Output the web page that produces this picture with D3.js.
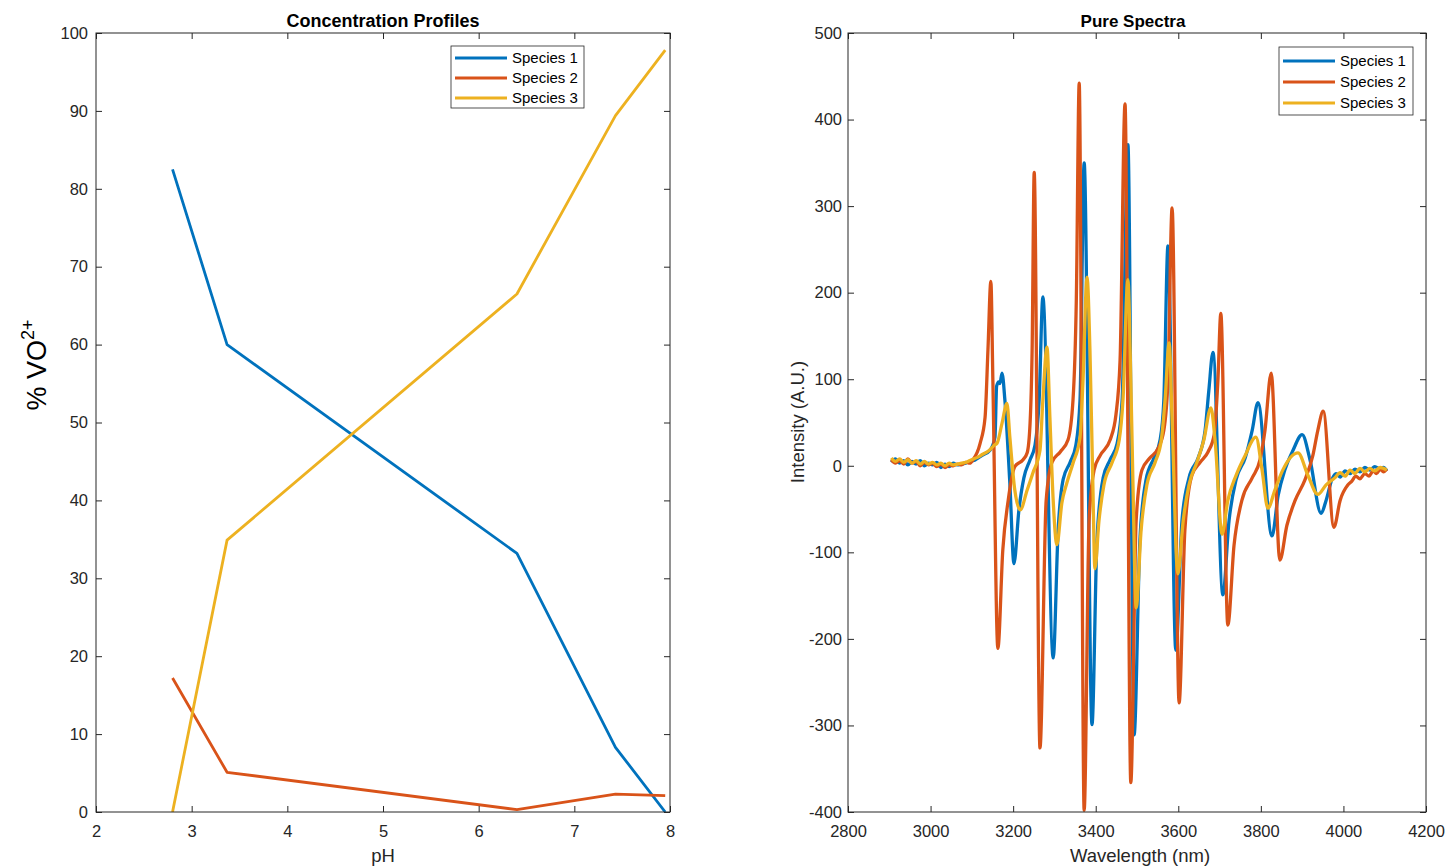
<!DOCTYPE html>
<html><head><meta charset="utf-8">
<script src="https://cdn.jsdelivr.net/npm/d3@7"></script>
<style>body{margin:0;background:#fff;} text{font-family:"Liberation Sans",Arial,sans-serif;}</style>
</head><body>
<svg id="c" width="1449" height="866"></svg>
<script>
// ---------- Data: concentration profiles ----------
const pH = [2.8, 3.37, 6.4, 7.43, 7.95];
const conc1 = [82.5, 60.0, 33.2, 8.3, 0.0];
const conc2 = [17.2, 5.1, 0.3, 2.3, 2.1];
const conc3 = [0.0, 34.9, 66.5, 89.4, 97.8];
const speciesNames = ["Species 1", "Species 2", "Species 3"];
const colors = ["#0072BD", "#D95319", "#EDB120"];
const pHTicks = [2, 3, 4, 5, 6, 7, 8];
const concTicks = [0, 10, 20, 30, 40, 50, 60, 70, 80, 90, 100];
const wlTicks = [2800, 3000, 3200, 3400, 3600, 3800, 4000, 4200];
const intTicks = [-400, -300, -200, -100, 0, 100, 200, 300, 400, 500];

// ---------- Data: pure spectra (wavelength, intensity) ----------
const spec1 = [
[2905,4],[2915,8],[2925,3],[2935,6],[2945,1],[2955,5],[2965,2],[2975,6],[2985,0],[2995,3],[3005,1],[3015,4],[3025,-2],[3035,2],[3045,-1],[3055,3],[3065,1],[3075,2],[3085,3],[3095,5],[3105,6],[3115,9],[3125,12],
[3144,18],[3156,33],[3160,92],[3165,97],[3168,95],[3173,107],[3180,76],[3192,-20],[3202,-113],
[3214,-51],[3226,-14],[3241,7],[3253,24],[3263,76],[3272,195],[3297,-222],
[3309,-74],[3321,-16],[3338,4],[3352,24],[3362,76],[3372,350],[3391,-299],
[3403,-86],[3418,-14],[3435,7],[3452,26],[3464,76],[3478,371],[3493,-311],
[3507,-86],[3522,-16],[3541,9],[3556,30],[3565,76],[3575,254],[3594,-213],
[3609,-63],[3626,-14],[3648,9],[3665,41],[3674,87],[3684,131],[3708,-149],
[3723,-63],[3740,-16],[3762,9],[3779,41],[3793,73],[3827,-81],
[3842,-34],[3858,-5],[3878,18],[3900,36],[3919,7],[3946,-55],[3958,-40],
[3972,-16],[3982,-9],[3992,-13],[4004,-6],[4016,-9],[4028,-4],[4040,-7],[4052,-2],[4064,-5],[4076,-1],[4089,-4],[4097,-2],[4105,-6]
];
const spec2 = [
[2905,7],[2915,3],[2925,6],[2935,2],[2945,8],[2955,3],[2965,5],[2975,0],[2985,4],[2995,1],[3005,3],[3015,-1],[3025,2],[3035,-2],[3045,1],[3055,0],[3065,2],[3075,1],[3085,4],[3095,3],[3103,7],
[3120,26],[3132,56],[3139,134],[3146,213],[3151,96],[3163,-211],
[3175,-97],[3188,-40],[3204,-1],[3224,7],[3234,15],[3241,49],[3246,134],[3251,339],[3265,-326],
[3280,-40],[3294,4],[3314,16],[3333,30],[3345,76],[3353,191],[3360,442],[3372,-398],
[3384,-63],[3396,-5],[3411,12],[3435,30],[3449,59],[3459,122],[3471,418],[3485,-366],
[3498,-63],[3512,-5],[3531,9],[3551,20],[3565,41],[3575,99],[3585,298],[3602,-274],
[3616,-74],[3633,-11],[3653,4],[3672,16],[3687,36],[3696,99],[3703,176],[3720,-184],
[3735,-92],[3754,-40],[3779,-14],[3798,7],[3810,41],[3825,107],[3846,-109],
[3863,-69],[3883,-40],[3907,-16],[3926,12],[3938,41],[3951,63],[3977,-71],
[3992,-40],[4011,-22],[4020,-18],[4030,-12],[4040,-15],[4052,-9],[4062,-12],[4072,-6],[4080,-9],[4089,-4],[4097,-7],[4105,-4]
];
const spec3 = [
[2905,9],[2915,5],[2925,8],[2935,4],[2945,7],[2955,3],[2965,6],[2975,2],[2985,5],[2995,2],[3005,4],[3015,1],[3025,3],[3035,0],[3045,3],[3055,1],[3065,2],[3075,3],[3085,4],[3095,6],[3105,8],[3115,10],[3125,13],[3140,17],[3155,24],
[3161,26],[3173,49],[3185,72],[3192,33],[3204,-28],[3217,-51],
[3234,-28],[3248,-8],[3265,18],[3272,76],[3282,137],[3289,56],[3297,-40],[3306,-91],
[3318,-43],[3330,-20],[3345,3],[3362,33],[3369,96],[3379,218],[3386,134],[3393,-20],[3398,-119],
[3408,-63],[3420,-22],[3440,4],[3457,30],[3466,76],[3478,215],[3485,99],[3490,-16],[3498,-164],
[3510,-74],[3524,-22],[3544,4],[3559,30],[3568,76],[3578,142],[3585,53],[3599,-125],
[3612,-63],[3626,-22],[3645,4],[3662,30],[3679,67],[3689,30],[3706,-79],
[3720,-40],[3740,-11],[3762,12],[3788,33],[3803,-5],[3817,-49],
[3834,-28],[3853,-5],[3890,15],[3914,-11],[3938,-33],[3958,-22],
[3979,-14],[3992,-8],[4004,-12],[4016,-5],[4028,-9],[4040,-3],[4052,-7],[4064,-3],[4076,-6],[4089,-2],[4105,-5]
];
const spectra = [spec1, spec2, spec3];
const concs = [conc1, conc2, conc3];

const svg = d3.select("#c");
const axisColor = "#262626";
const tickFont = "16.5px";

function drawBox(g, x, y, xTicks, yTicks, yPad) {
  const [x0, x1] = x.range(), [y0, y1] = y.range();
  const tl = 6;
  g.append("rect").attr("x", x0).attr("y", y1).attr("width", x1 - x0).attr("height", y0 - y1)
    .attr("fill", "none").attr("stroke", axisColor).attr("stroke-width", 1);
  const fmt = d => String(d);
  const bx = g.append("g").attr("transform", `translate(0,${y0})`)
    .call(d3.axisBottom(x).tickValues(xTicks).tickSize(-tl).tickPadding(13).tickFormat(fmt));
  const tx = g.append("g").attr("transform", `translate(0,${y1})`)
    .call(d3.axisTop(x).tickValues(xTicks).tickSize(-tl).tickFormat(""));
  const ly = g.append("g").attr("transform", `translate(${x0},0)`)
    .call(d3.axisLeft(y).tickValues(yTicks).tickSize(-tl).tickPadding(yPad).tickFormat(fmt));
  const ry = g.append("g").attr("transform", `translate(${x1},0)`)
    .call(d3.axisRight(y).tickValues(yTicks).tickSize(-tl).tickFormat(""));
  [bx, tx, ly, ry].forEach(a => {
    a.select(".domain").remove();
    a.selectAll(".tick line").attr("stroke", axisColor);
    a.selectAll("text").attr("fill", axisColor).style("font-size", tickFont)
      .style("font-family", "'Liberation Sans', Arial, sans-serif");
  });
  bx.selectAll("text").attr("dy", "0.71em");
}

function drawLegend(g, x, y, w, h, first, rowGap) {
  g.append("rect").attr("x", x).attr("y", y).attr("width", w).attr("height", h)
    .attr("fill", "#fff").attr("stroke", "#262626").attr("stroke-width", 0.8);
  speciesNames.forEach((n, i) => {
    const cy = y + first + i * rowGap;
    g.append("line").attr("x1", x + 4).attr("x2", x + 56).attr("y1", cy).attr("y2", cy)
      .attr("stroke", colors[i]).attr("stroke-width", 3);
    g.append("text").attr("x", x + 61).attr("y", cy + 5).text(n)
      .style("font-size", "15px").attr("fill", "#000");
  });
}

// ---------- Left panel ----------
const xL = d3.scaleLinear().domain([2, 8]).range([96, 670]);
const yL = d3.scaleLinear().domain([0, 100]).range([812, 33]);
const gL = svg.append("g");
gL.append("defs").append("clipPath").attr("id", "clipL").append("rect")
  .attr("x", 96).attr("y", 33).attr("width", 574).attr("height", 779);
const lineL = d3.line().x(d => xL(d[0])).y(d => yL(d[1]));
const gLines = gL.append("g").attr("clip-path", "url(#clipL)");
concs.forEach((c, i) => {
  gLines.append("path").datum(pH.map((p, j) => [p, c[j]])).attr("d", lineL)
    .attr("fill", "none").attr("stroke", colors[i]).attr("stroke-width", 2.8)
    .attr("stroke-linejoin", "round");
});
drawBox(gL, xL, yL, pHTicks, concTicks, 8);
drawLegend(gL, 451, 46, 133, 62, 12, 20);
gL.append("text").attr("x", 383).attr("y", 27).attr("text-anchor", "middle")
  .style("font-size", "18px").style("font-weight", "bold").text("Concentration Profiles");
gL.append("text").attr("x", 383).attr("y", 862).attr("text-anchor", "middle")
  .style("font-size", "18.5px").attr("fill", axisColor).text("pH");
const yl = gL.append("text").attr("transform", "translate(46,365) rotate(-90)")
  .attr("text-anchor", "middle").style("font-size", "27px").attr("fill", "#000");
yl.append("tspan").text("% VO");
yl.append("tspan").text("2+").style("font-size", "18px").attr("dy", "-12");

// ---------- Right panel ----------
const xR = d3.scaleLinear().domain([2800, 4200]).range([848, 1426]);
const yR = d3.scaleLinear().domain([-400, 500]).range([812, 33]);
const gR = svg.append("g");
gR.append("defs").append("clipPath").attr("id", "clipR").append("rect")
  .attr("x", 848).attr("y", 33).attr("width", 578).attr("height", 779);
const lineR = d3.line().x(d => xR(d[0])).y(d => yR(d[1])).curve(d3.curveMonotoneX);
const gSpec = gR.append("g").attr("clip-path", "url(#clipR)");
spectra.forEach((s, i) => {
  gSpec.append("path").datum(s).attr("d", lineR)
    .attr("fill", "none").attr("stroke", colors[i]).attr("stroke-width", 3.3)
    .attr("stroke-linejoin", "round");
});
drawBox(gR, xR, yR, wlTicks, intTicks, 6);
drawLegend(gR, 1279, 47, 134, 68, 14, 21);
gR.append("text").attr("x", 1133).attr("y", 27).attr("text-anchor", "middle")
  .style("font-size", "17px").style("font-weight", "bold").text("Pure Spectra");
gR.append("text").attr("x", 1140).attr("y", 862).attr("text-anchor", "middle")
  .style("font-size", "18.5px").attr("fill", axisColor).text("Wavelength (nm)");
gR.append("text").attr("transform", "translate(804,422) rotate(-90)")
  .attr("text-anchor", "middle").style("font-size", "18.5px").attr("fill", axisColor).text("Intensity (A.U.)");
</script>
</body></html>
